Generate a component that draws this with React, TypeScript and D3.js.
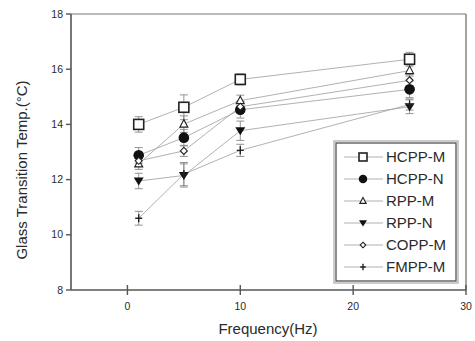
import React from "react";
import * as d3 from "d3";

const freqs = [1, 5, 10, 25];
const seriesNames = ["HCPP-M", "HCPP-N", "RPP-M", "RPP-N", "COPP-M", "FMPP-M"];
const hcppM = [14.0, 14.62, 15.63, 16.36];
const hcppN = [12.88, 13.52, 14.53, 15.27];
const rppM = [12.57, 14.01, 14.86, 15.95];
const rppN = [11.95, 12.15, 13.77, 14.64];
const coppM = [12.68, 13.04, 14.64, 15.6];
const fmppM = [10.6, 12.2, 13.06, 14.72];
const errHcppM = [0.28, 0.45, 0.2, 0.25];
const errHcppN = [0.28, 0.3, 0.3, 0.3];
const errRppM = [0.2, 0.3, 0.2, 0.2];
const errRppN = [0.28, 0.42, 0.35, 0.25];
const errCoppM = [0.2, 0.2, 0.2, 0.2];
const errFmppM = [0.25, 0.42, 0.22, 0.2];
const xTicks = [0, 10, 20, 30];
const yTicks = [8, 10, 12, 14, 16, 18];

const values = [hcppM, hcppN, rppM, rppN, coppM, fmppM];
const errors = [errHcppM, errHcppN, errRppM, errRppN, errCoppM, errFmppM];
const symbols = ["square", "circle", "triUp", "triDown", "diamond", "cross"];

const W = 475, H = 341;
const left = 71, right = 466, top = 14, bottom = 290;
const x = d3.scaleLinear().domain([-5, 30]).range([left, right]);
const y = d3.scaleLinear().domain([8, 18]).range([bottom, top]);
const TXT = "#2a2a2a";
const LINE = "#a8a8a8";

function Marker({ kind, cx, cy, s = 1 }: { kind: string; cx: number; cy: number; s?: number }) {
  const c = "#222";
  if (kind === "square") return <rect x={cx - 5 * s} y={cy - 5 * s} width={10 * s} height={10 * s} fill="white" stroke={c} strokeWidth={1.6} />;
  if (kind === "circle") return <circle cx={cx} cy={cy} r={5.3 * s} fill="#111" />;
  if (kind === "triUp") return <path d={`M${cx},${cy - 4.5 * s}L${cx + 4 * s},${cy + 3 * s}L${cx - 4 * s},${cy + 3 * s}Z`} fill="white" stroke={c} strokeWidth={1.1} />;
  if (kind === "triDown") return <path d={`M${cx - 5 * s},${cy - 3.5 * s}L${cx + 5 * s},${cy - 3.5 * s}L${cx},${cy + 4.5 * s}Z`} fill="#111" />;
  if (kind === "diamond") return <path d={`M${cx},${cy - 3.5 * s}L${cx + 3.5 * s},${cy}L${cx},${cy + 3.5 * s}L${cx - 3.5 * s},${cy}Z`} fill="white" stroke={c} strokeWidth={1.1} />;
  return <path d={`M${cx - 3.5 * s},${cy}H${cx + 3.5 * s}M${cx},${cy - 4 * s}V${cy + 4 * s}`} stroke={c} strokeWidth={1.4} />;
}

export default function App() {
  const line = d3.line<[number, number]>().x((d) => x(d[0])).y((d) => y(d[1]));
  const lx = 334, ly = 141, lw = 124, lh = 142;
  return (
    <svg width={W} height={H} style={{ position: "absolute", left: 0, top: 0, background: "white" }} fontFamily="Liberation Sans, Arial, sans-serif">
      <rect x={0} y={0} width={W} height={H} fill="white" />
      {/* frame */}
      <line x1={left} y1={top} x2={right} y2={top} stroke="#777" strokeWidth={1.2} />
      <line x1={right} y1={top} x2={right} y2={bottom} stroke="#666" strokeWidth={1.2} />
      <line x1={left} y1={top} x2={left} y2={bottom} stroke="#555" strokeWidth={1.6} />
      <line x1={left} y1={bottom} x2={right} y2={bottom} stroke="#555" strokeWidth={1.6} />
      {yTicks.map((t) => (
        <g key={t}>
          <line x1={left - 5} x2={left} y1={y(t)} y2={y(t)} stroke="#555" strokeWidth={1.4} />
          <text x={left - 8} y={y(t)} dy="0.35em" textAnchor="end" fontSize={10.5} fill={TXT}>{t}</text>
        </g>
      ))}
      {xTicks.map((t) => (
        <g key={t}>
          <line x1={x(t)} x2={x(t)} y1={bottom - 5} y2={bottom + 5} stroke="#555" strokeWidth={1.4} />
          <text x={x(t)} y={306} dy="0.35em" textAnchor="middle" fontSize={10.5} fill={TXT}>{t}</text>
        </g>
      ))}
      <text x={268} y={329} dy="0.35em" textAnchor="middle" fontSize={15} fill={TXT}>Frequency(Hz)</text>
      <text transform={`translate(22,170) rotate(-90)`} dy="0.35em" textAnchor="middle" fontSize={15} fill={TXT}>Glass Transition Temp.(°C)</text>
      {/* lines */}
      {values.map((vals, i) => (
        <path key={"l" + i} d={line(freqs.map((f, j) => [f, vals[j]] as [number, number])) || ""} fill="none" stroke={LINE} strokeWidth={0.9} />
      ))}
      {/* error bars */}
      {values.map((vals, i) =>
        freqs.map((f, j) => {
          const cx = x(f), y1 = y(vals[j] + errors[i][j]), y2 = y(vals[j] - errors[i][j]);
          return (
            <g key={`e${i}-${j}`} stroke="#888" strokeWidth={0.9}>
              <line x1={cx} x2={cx} y1={y1} y2={y2} />
              <line x1={cx - 4} x2={cx + 4} y1={y1} y2={y1} />
              <line x1={cx - 4} x2={cx + 4} y1={y2} y2={y2} />
            </g>
          );
        })
      )}
      {values.map((vals, i) =>
        freqs.map((f, j) => <Marker key={`m${i}-${j}`} kind={symbols[i]} cx={x(f)} cy={y(vals[j])} />)
      )}
      {/* legend */}
      <rect x={lx} y={ly} width={lw} height={lh} fill="white" stroke="#999" strokeWidth={1} />
      <rect x={lx + 2} y={ly + 2} width={lw - 4} height={lh - 4} fill="none" stroke="#444" strokeWidth={1.2} />
      {seriesNames.map((n, i) => {
        const yy = 157 + i * 22;
        return (
          <g key={n}>
            <line x1={344} x2={383} y1={yy} y2={yy} stroke={LINE} strokeWidth={0.9} />
            <Marker kind={symbols[i]} cx={363} cy={yy} s={0.8} />
            <text x={386} y={yy} dy="0.36em" fontSize={15} fill={TXT}>{n}</text>
          </g>
        );
      })}
    </svg>
  );
}
